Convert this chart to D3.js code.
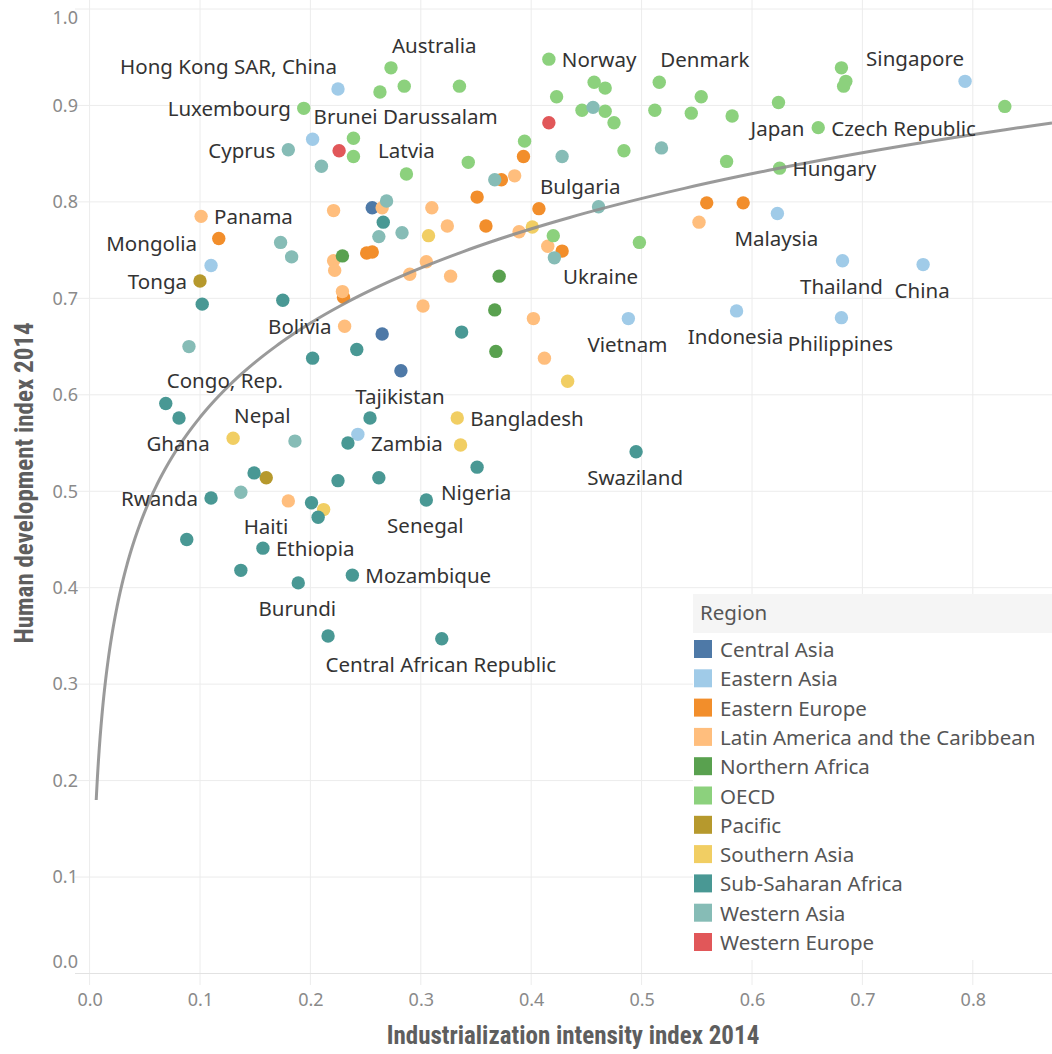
<!DOCTYPE html>
<html>
<head>
<meta charset="utf-8">
<title>Industrialization intensity vs. human development, 2014</title>
<script src="https://cdn.jsdelivr.net/npm/d3@7"></script>
<style>
  body { margin: 0; background: #ffffff; }
  svg { display: block; font-family: "Noto Sans", "Open Sans", sans-serif; }
</style>
</head>
<body>
<svg id="chart" width="1052" height="1054"></svg>
<script>
// ---- Regions (legend order) and their colours ----
const regions = [
  "Central Asia", "Eastern Asia", "Eastern Europe", "Latin America and the Caribbean",
  "Northern Africa", "OECD", "Pacific", "Southern Asia", "Sub-Saharan Africa",
  "Western Asia", "Western Europe"
];
const regionColors = [
  "#4e79a7", "#a0cbe8", "#f28e2b", "#ffbe7d", "#59a14f", "#8cd17d",
  "#b6992d", "#f1ce63", "#499894", "#86bcb6", "#e15759"
];

// ---- Countries per region: [industrialization intensity, HDI, label] ----
const centralAsia = [
  [0.256, 0.794], [0.265, 0.663], [0.282, 0.625, "Tajikistan"]
];
const easternAsia = [
  [0.225, 0.917, "Hong Kong SAR, China"], [0.202, 0.865, "Brunei Darussalam"],
  [0.793, 0.925, "Singapore"], [0.623, 0.788, "Malaysia"], [0.682, 0.739, "Thailand"],
  [0.755, 0.735, "China"], [0.586, 0.687, "Indonesia"], [0.681, 0.680, "Philippines"],
  [0.488, 0.679, "Vietnam"], [0.110, 0.734, "Mongolia"], [0.243, 0.559]
];
const easternEurope = [
  [0.117, 0.762], [0.393, 0.847], [0.373, 0.823], [0.351, 0.805],
  [0.407, 0.793, "Bulgaria"], [0.559, 0.799], [0.592, 0.799], [0.359, 0.775],
  [0.428, 0.749, "Ukraine"], [0.251, 0.747], [0.256, 0.748], [0.230, 0.701]
];
const latinAmerica = [
  [0.101, 0.785, "Panama"], [0.221, 0.791], [0.265, 0.794], [0.310, 0.794],
  [0.385, 0.827], [0.552, 0.779], [0.324, 0.775], [0.389, 0.769], [0.415, 0.754],
  [0.221, 0.739], [0.222, 0.729], [0.305, 0.738], [0.290, 0.725], [0.327, 0.723],
  [0.229, 0.707], [0.302, 0.692], [0.402, 0.679], [0.231, 0.671, "Bolivia"],
  [0.412, 0.638], [0.180, 0.490, "Haiti"]
];
const northernAfrica = [
  [0.229, 0.744], [0.371, 0.723], [0.367, 0.688], [0.368, 0.645]
];
const oecd = [
  [0.273, 0.939, "Australia"], [0.263, 0.914], [0.285, 0.920], [0.335, 0.920],
  [0.416, 0.948, "Norway"], [0.423, 0.909], [0.446, 0.895], [0.457, 0.924],
  [0.467, 0.918], [0.467, 0.894], [0.475, 0.882], [0.512, 0.895],
  [0.516, 0.924, "Denmark"], [0.545, 0.892], [0.554, 0.909], [0.582, 0.889],
  [0.577, 0.842], [0.624, 0.903, "Japan"], [0.660, 0.877, "Czech Republic"],
  [0.681, 0.939], [0.685, 0.925], [0.683, 0.920], [0.829, 0.899],
  [0.625, 0.835, "Hungary"], [0.194, 0.897, "Luxembourg"], [0.239, 0.866],
  [0.239, 0.847], [0.287, 0.829, "Latvia"], [0.343, 0.841], [0.394, 0.863],
  [0.484, 0.853], [0.420, 0.765], [0.498, 0.758]
];
const pacific = [
  [0.100, 0.718, "Tonga"], [0.160, 0.514]
];
const southernAsia = [
  [0.130, 0.555, "Nepal"], [0.333, 0.576, "Bangladesh"], [0.336, 0.548],
  [0.433, 0.614], [0.401, 0.774], [0.307, 0.765], [0.212, 0.481]
];
const subSaharanAfrica = [
  [0.266, 0.779], [0.175, 0.698], [0.102, 0.694], [0.242, 0.647], [0.202, 0.638],
  [0.337, 0.665], [0.069, 0.591, "Congo, Rep."], [0.081, 0.576, "Ghana"],
  [0.254, 0.576], [0.234, 0.550, "Zambia"], [0.351, 0.525, "Nigeria"],
  [0.495, 0.541, "Swaziland"], [0.149, 0.519], [0.225, 0.511], [0.262, 0.514],
  [0.110, 0.493, "Rwanda"], [0.201, 0.488], [0.207, 0.473], [0.305, 0.491, "Senegal"],
  [0.088, 0.450], [0.157, 0.441, "Ethiopia"], [0.137, 0.418],
  [0.189, 0.405, "Burundi"], [0.238, 0.413, "Mozambique"], [0.216, 0.350],
  [0.319, 0.347, "Central African Republic"]
];
const westernAsia = [
  [0.180, 0.854, "Cyprus"], [0.210, 0.837], [0.269, 0.801], [0.283, 0.768],
  [0.262, 0.764], [0.173, 0.758], [0.183, 0.743], [0.090, 0.650], [0.186, 0.552],
  [0.137, 0.499], [0.421, 0.742], [0.428, 0.847], [0.456, 0.898], [0.518, 0.856],
  [0.367, 0.823], [0.461, 0.795]
];
const westernEurope = [
  [0.226, 0.853], [0.416, 0.882]
];
const regionPoints = [
  centralAsia, easternAsia, easternEurope, latinAmerica, northernAfrica, oecd,
  pacific, southernAsia, subSaharanAfrica, westernAsia, westernEurope
];

// ---- Axis ticks ----
const xTicks = [0, 0.1, 0.2, 0.3, 0.4, 0.5, 0.6, 0.7, 0.8];
const yTicks = [0, 0.1, 0.2, 0.3, 0.4, 0.5, 0.6, 0.7, 0.8, 0.9, 1.0];

// ---- Where each country label sits relative to its mark ----
const labelPlacement = {
  "Hong Kong SAR, China": "aboveEnd", "Australia": "aboveStart", "Norway": "right",
  "Denmark": "aboveStart", "Singapore": "aboveEnd", "Luxembourg": "left",
  "Brunei Darussalam": "aboveStart", "Cyprus": "left", "Latvia": "above",
  "Japan": "below", "Czech Republic": "right", "Hungary": "right",
  "Bulgaria": "aboveStart", "Panama": "right", "Mongolia": "aboveLeft",
  "Tonga": "left", "Ukraine": "belowStart", "Malaysia": "below", "Thailand": "below",
  "China": "below", "Indonesia": "below", "Philippines": "below", "Vietnam": "below",
  "Bolivia": "left", "Congo, Rep.": "aboveStart", "Ghana": "below",
  "Nepal": "aboveStart", "Tajikistan": "below", "Bangladesh": "right",
  "Zambia": "rightFar", "Swaziland": "below", "Rwanda": "left", "Nigeria": "below",
  "Senegal": "below", "Haiti": "belowEnd", "Ethiopia": "right",
  "Mozambique": "right", "Burundi": "below", "Central African Republic": "below"
};
const placementOffsets = {
  right:      { anchor: "start",  dx: 13,  dy: 0 },
  rightFar:   { anchor: "start",  dx: 23,  dy: 0 },
  left:       { anchor: "end",    dx: -13, dy: 0 },
  above:      { anchor: "middle", dx: 0,   dy: -24 },
  aboveStart: { anchor: "start",  dx: 1,   dy: -23 },
  aboveEnd:   { anchor: "end",    dx: -1,  dy: -23 },
  aboveLeft:  { anchor: "end",    dx: -14, dy: -23 },
  below:      { anchor: "middle", dx: -1,  dy: 25 },
  belowStart: { anchor: "start",  dx: 1,   dy: 25 },
  belowEnd:   { anchor: "end",    dx: 0,   dy: 25 }
};

// ---- Layout ----
const W = 1052, H = 1054;
const plot = { left: 75, right: 1052, top: 0, bottom: 985 };
const labelSize = "20.5px";
const svg = d3.select("#chart");

const x = d3.scaleLinear().domain([0, 0.8]).range([89.6, 972.8]);
const y = d3.scaleLinear().domain([0, 1]).range([973.5, 9]);
const color = d3.scaleOrdinal().domain(regions).range(regionColors);

const points = regionPoints.flatMap((arr, i) =>
  arr.map(d => ({ x: d[0], y: d[1], name: d[2] || null, region: regions[i] }))
);

svg.append("defs").append("clipPath").attr("id", "plot-clip")
  .append("rect")
  .attr("x", plot.left).attr("y", plot.top)
  .attr("width", plot.right - plot.left).attr("height", plot.bottom - plot.top);

// gridlines
const grid = svg.append("g").attr("class", "grid");
grid.selectAll("line.v").data(xTicks).join("line")
  .attr("class", "v")
  .attr("x1", d => x(d)).attr("x2", d => x(d))
  .attr("y1", plot.top).attr("y2", plot.bottom)
  .attr("stroke", "#ececec").attr("stroke-width", 1);
grid.selectAll("line.h").data(yTicks).join("line")
  .attr("class", "h")
  .attr("x1", plot.left).attr("x2", plot.right)
  .attr("y1", d => y(d)).attr("y2", d => y(d))
  .attr("stroke", d => d === 0 ? "#e2e2e2" : "#ececec").attr("stroke-width", 1);

// y axis labels (edge labels are kept inside the plot band)
const yAxis = svg.append("g")
  .attr("transform", `translate(${plot.left + 3},0)`)
  .call(d3.axisLeft(y).tickValues(yTicks).tickSize(0).tickPadding(0)
    .tickFormat(d3.format(".1f")));
yAxis.select(".domain").remove();
yAxis.selectAll("text")
  .attr("y", d => Math.max(18, Math.min(962, y(d))) - y(d))
  .attr("fill", "#8a8a8a").style("font-size", "18px")
  .style("font-family", "'Noto Sans', sans-serif");

// x axis labels
const xAxis = svg.append("g")
  .attr("transform", `translate(0,${plot.bottom})`)
  .call(d3.axisBottom(x).tickValues(xTicks).tickSize(0).tickPadding(8)
    .tickFormat(d3.format(".1f")));
xAxis.select(".domain").remove();
xAxis.selectAll("text")
  .attr("fill", "#8a8a8a").style("font-size", "18px")
  .style("font-family", "'Noto Sans', sans-serif");

// axis titles
const titleFont = "'Liberation Sans Narrow', 'Roboto Condensed', 'DejaVu Sans Condensed', 'Noto Sans', sans-serif";
svg.append("text")
  .attr("x", 573).attr("y", 1035)
  .attr("text-anchor", "middle").attr("dominant-baseline", "central")
  .style("font-family", titleFont).style("font-size", "25px").style("font-weight", "bold")
  .attr("fill", "#5e5e5e")
  .text("Industrialization intensity index 2014");
svg.append("text")
  .attr("transform", "translate(24,483) rotate(-90)")
  .attr("text-anchor", "middle").attr("dominant-baseline", "central")
  .style("font-family", titleFont).style("font-size", "25px").style("font-weight", "bold")
  .attr("fill", "#5e5e5e")
  .text("Human development index 2014");

// logarithmic trend line, least-squares fit of HDI on ln(industrialization)
const n = points.length;
const lx = points.map(p => Math.log(p.x));
const sx = d3.sum(lx), sy = d3.sum(points, p => p.y);
const sxx = d3.sum(lx, v => v * v), sxy = d3.sum(points, (p, i) => lx[i] * p.y);
const b = (n * sxy - sx * sy) / (n * sxx - sx * sx);
const a = (sy - b * sx) / n;
const xStart = 0.006, xEnd = x.invert(plot.right);
const trend = d3.range(0, 301).map(i => {
  const t = i / 300;
  const xv = Math.exp(Math.log(xStart) + t * (Math.log(xEnd) - Math.log(xStart)));
  return [xv, a + b * Math.log(xv)];
});

const marks = svg.append("g").attr("clip-path", "url(#plot-clip)");

marks.selectAll("circle").data(points).join("circle")
  .attr("cx", d => x(d.x)).attr("cy", d => y(d.y))
  .attr("r", 6.7)
  .attr("fill", d => color(d.region));

marks.append("path")
  .datum(trend)
  .attr("d", d3.line().x(d => x(d[0])).y(d => y(d[1])))
  .attr("fill", "none").attr("stroke", "#8f8f8f").attr("stroke-width", 3)
  .attr("stroke-opacity", 0.9);

// country labels
svg.append("g").selectAll("text")
  .data(points.filter(d => d.name))
  .join("text")
  .each(function (d) {
    const p = placementOffsets[labelPlacement[d.name] || "right"];
    d3.select(this)
      .attr("x", x(d.x) + p.dx).attr("y", y(d.y) + p.dy)
      .attr("text-anchor", p.anchor);
  })
  .attr("dominant-baseline", "central")
  .style("font-size", labelSize).attr("fill", "#333")
  .text(d => d.name);

// legend
const legend = svg.append("g").attr("transform", "translate(693,594)");
legend.append("rect").attr("width", W - 693).attr("height", 366).attr("fill", "#fff");
legend.append("rect").attr("width", W - 693).attr("height", 39).attr("fill", "#f5f5f5");
legend.append("text")
  .attr("x", 7).attr("y", 18).attr("dominant-baseline", "central")
  .style("font-size", labelSize).attr("fill", "#555").text("Region");
const item = legend.selectAll("g.item").data(regions).join("g")
  .attr("class", "item")
  .attr("transform", (d, i) => `translate(0,${55 + i * 29.3})`);
item.append("rect")
  .attr("x", 1).attr("y", -9).attr("width", 18).attr("height", 18)
  .attr("fill", d => color(d));
item.append("text")
  .attr("x", 27).attr("y", 0).attr("dominant-baseline", "central")
  .style("font-size", labelSize).attr("fill", "#555")
  .text(d => d);
</script>
</body>
</html>
